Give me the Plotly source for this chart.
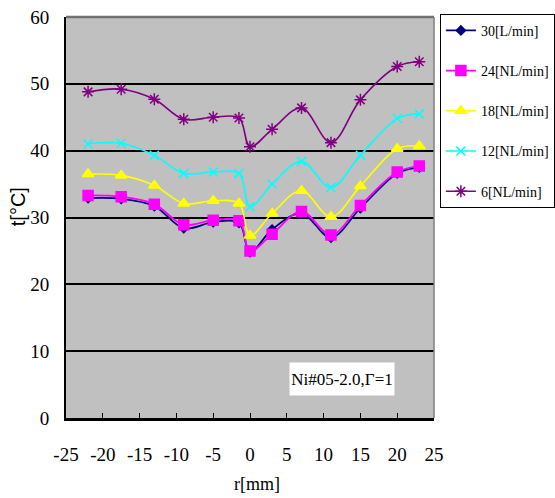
import plotly.graph_objects as go

# Radial positions [mm]
r_mm = [-22, -17.5, -13, -9, -5, -1.5, 0, 3, 7, 11, 15, 20, 23]

# Temperature profiles [°C] for each flow rate
t_30 = [32.9, 32.8, 31.7, 28.4, 29.3, 29.2, 24.8, 28.2, 30.6, 27.0, 31.4, 36.6, 37.5]
t_24 = [33.3, 33.1, 32.0, 28.9, 29.6, 29.5, 25.0, 27.5, 30.9, 27.4, 31.8, 36.8, 37.7]
t_18 = [36.5, 36.3, 34.8, 32.1, 32.5, 32.1, 27.3, 30.6, 34.0, 30.1, 34.7, 40.3, 40.7]
t_12 = [41.0, 41.1, 39.3, 36.6, 36.8, 36.6, 31.6, 35.0, 38.4, 34.5, 39.3, 44.8, 45.5]
t_6 = [48.8, 49.2, 47.7, 44.7, 45.0, 44.9, 40.6, 43.2, 46.4, 41.2, 47.6, 52.6, 53.3]

series_names = ["30[L/min]", "24[NL/min]", "18[NL/min]", "12[NL/min]", "6[NL/min]"]

x_tick_vals = [-25, -20, -15, -10, -5, 0, 5, 10, 15, 20, 25]
x_tick_text = ["-25", "-20", "-15", "-10", "-5", "0", "5", "10", "15", "20", "25"]
y_tick_vals = [0, 10, 20, 30, 40, 50, 60]
y_tick_text = ["0", "10", "20", "30", "40", "50", "60"]

label_text = "Ni#05-2.0,Γ=1"

styles = [
    dict(color="#000080", symbol="diamond", size=7, lw=1.8),
    dict(color="#FF00FF", symbol="square", size=10, lw=1.8),
    dict(color="#FFFF00", symbol="triangle-up", size=10, lw=1.6),
    dict(color="#00FFFF", symbol="x-thin-open", size=9, lw=1.6),
    dict(color="#800080", symbol="asterisk-open", size=10, lw=1.6),
]

serif = "Liberation Serif"
sans = "Liberation Sans"

fig = go.Figure()
for i, (name, ys, st) in enumerate(zip(series_names, [t_30, t_24, t_18, t_12, t_6], styles)):
    fig.add_trace(go.Scatter(
        x=r_mm, y=ys, name=name, mode="lines+markers",
        legendgroup=f"g{i}",
        line=dict(color=st["color"], width=st["lw"], shape="spline", smoothing=1.0),
        marker=dict(symbol=st["symbol"], size=st["size"], color=st["color"],
                    line=dict(color=st["color"], width=1.5)),
    ))

fig.update_layout(
    width=555, height=498,
    margin=dict(l=66, r=121, t=17, b=80, autoexpand=False),
    paper_bgcolor="white",
    plot_bgcolor="#C0C0C0",
    font=dict(family=serif, size=18, color="black"),
    showlegend=True,
    legend=dict(
        x=1.016, y=1.008, xanchor="left", yanchor="top",
        bgcolor="white", bordercolor="black", borderwidth=1,
        font=dict(family=serif, size=14, color="black"),
        tracegroupgap=19, traceorder="grouped",
    ),
    xaxis=dict(
        range=[-25, 25], tickvals=x_tick_vals, ticktext=x_tick_text,
        showgrid=False, zeroline=False,
        showline=True, linecolor="black", linewidth=2.5,
        ticks="inside", ticklen=5, tickwidth=1, tickcolor="black",
        ticklabelstandoff=17,
        tickfont=dict(family=serif, size=19),
    ),
    yaxis=dict(
        range=[0, 60], tickvals=y_tick_vals, ticktext=y_tick_text,
        showgrid=True, gridcolor="black", gridwidth=1.5,
        zeroline=False,
        showline=True, linecolor="black", linewidth=2,
        ticks="", ticklabelstandoff=11,
        tickfont=dict(family=serif, size=19),
    ),
    shapes=[
        dict(type="line", xref="paper", yref="paper", x0=0, x1=1, y0=1, y1=1,
             line=dict(color="#707070", width=2.5)),
        dict(type="line", xref="paper", yref="paper", x0=1, x1=1, y0=0, y1=1,
             line=dict(color="#808080", width=1.5)),
    ],
    annotations=[
        dict(x=12.5, y=5.8, xref="x", yref="y", text=label_text, showarrow=False,
             bgcolor="white", width=102, height=30,
             font=dict(family=serif, size=17, color="black")),
        dict(x=0.519, y=-0.165, xref="paper", yref="paper", text="r[mm]",
             xanchor="center", yanchor="middle",
             showarrow=False, font=dict(family=serif, size=18, color="black")),
        dict(x=-0.13, y=0.526, xref="paper", yref="paper", text="t[°C]",
             xanchor="center", yanchor="middle",
             showarrow=False, textangle=-90,
             font=dict(family=sans, size=20, color="black")),
    ],
)

fig.write_html("out.html")
